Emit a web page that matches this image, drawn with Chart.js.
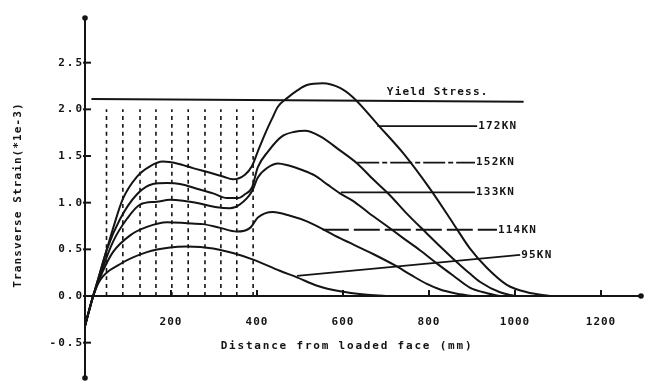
<!DOCTYPE html>
<html>
<head>
<meta charset="utf-8">
<title>Transverse strain vs distance from loaded face</title>
<script src="https://cdn.jsdelivr.net/npm/chart.js@4.4.1/dist/chart.umd.min.js"></script>
<style>
  html, body { margin: 0; padding: 0; background: #fff; }
  #chartWrap { width: 648px; height: 390px; }
</style>
</head>
<body>
<div id="chartWrap"><canvas id="strainChart" width="648" height="390"></canvas></div>
<script>
// distance from loaded face (mm) / transverse strain (x1e-3), one pair per load
const dist172 = [0, 19, 42, 65, 88, 121, 151, 181, 214, 251, 291, 321, 344, 372, 388, 402, 419, 435, 449, 470, 493, 516, 553, 593, 623, 686, 740, 802, 856, 895, 935, 981, 1028, 1081];
const strain172 = [-0.32, 0, 0.36, 0.72, 1.04, 1.28, 1.39, 1.44, 1.42, 1.37, 1.32, 1.28, 1.25, 1.30, 1.39, 1.55, 1.74, 1.90, 2.03, 2.12, 2.20, 2.26, 2.28, 2.23, 2.13, 1.81, 1.53, 1.15, 0.78, 0.51, 0.30, 0.12, 0.04, 0];

const dist152 = [0, 19, 30, 51, 81, 121, 158, 191, 221, 260, 298, 330, 356, 372, 388, 402, 426, 458, 488, 512, 547, 593, 633, 670, 709, 749, 795, 826, 856, 895, 919, 965, 1000];
const strain152 = [-0.32, 0, 0.17, 0.50, 0.82, 1.09, 1.20, 1.21, 1.20, 1.15, 1.10, 1.05, 1.05, 1.09, 1.16, 1.38, 1.55, 1.71, 1.76, 1.77, 1.71, 1.56, 1.42, 1.25, 1.08, 0.88, 0.67, 0.53, 0.40, 0.24, 0.15, 0.04, 0];

const dist133 = [0, 19, 35, 65, 98, 128, 167, 198, 228, 267, 307, 337, 360, 388, 402, 426, 449, 472, 505, 535, 565, 593, 623, 660, 702, 740, 779, 818, 856, 895, 935, 965];
const strain133 = [-0.32, 0, 0.22, 0.58, 0.83, 0.98, 1.01, 1.03, 1.02, 0.99, 0.95, 0.94, 0.98, 1.12, 1.27, 1.38, 1.42, 1.40, 1.35, 1.29, 1.19, 1.10, 1.02, 0.89, 0.75, 0.62, 0.49, 0.35, 0.22, 0.09, 0.03, 0];

const dist114 = [0, 19, 40, 65, 105, 144, 191, 237, 274, 314, 353, 384, 402, 437, 477, 516, 593, 670, 720, 760, 795, 826, 860, 900];
const strain114 = [-0.32, 0, 0.25, 0.47, 0.65, 0.74, 0.79, 0.78, 0.77, 0.73, 0.69, 0.73, 0.84, 0.90, 0.86, 0.80, 0.62, 0.45, 0.33, 0.22, 0.13, 0.07, 0.03, 0];

const dist95 = [0, 19, 35, 81, 144, 198, 237, 298, 344, 391, 453, 493, 540, 593, 650, 700];
const strain95 = [-0.32, 0, 0.17, 0.34, 0.47, 0.52, 0.53, 0.51, 0.46, 0.39, 0.27, 0.20, 0.11, 0.05, 0.015, 0];

const loadNames = ['172KN', '152KN', '133KN', '114KN', '95KN'];

// strain gauge stations (dotted verticals) and yield level
const gaugeDist = [50, 88, 128, 165, 202, 240, 279, 316, 353, 391];
const gaugeTop = 2.0;
const yieldDist = [15, 1020];
const yieldStrain = [2.11, 2.08];

// label leader lines, same order as loadNames
const leaderFromDist = [680, 633, 595, 553, 493];
const leaderToDist = [912, 907, 907, 958, 1012];
const leaderFromStrain = [1.82, 1.43, 1.11, 0.71, 0.215];
const leaderToStrain = [1.82, 1.43, 1.11, 0.71, 0.44];

const xTicks = [200, 400, 600, 800, 1000, 1200];
const yTicks = [-0.5, 0, 0.5, 1, 1.5, 2, 2.5];

class StrainChart {
    constructor(canvasId) {
        this.canvas = document.getElementById(canvasId);
        this.ink = '#141414';
        this.fontFamily = '"DejaVu Sans Mono", monospace';
        this.leaderDash = [[], [22, 3, 5, 3], [], [26, 5], []];
        this.init();
    }

    init() {
        this.chart = new Chart(this.canvas.getContext('2d'), {
            type: 'line',
            data: { datasets: this.buildDatasets() },
            options: {
                responsive: false,
                animation: false,
                devicePixelRatio: 1,
                layout: { padding: { left: 85, right: 4, top: 16, bottom: 10 } },
                plugins: {
                    legend: { display: false },
                    tooltip: { enabled: false }
                },
                scales: {
                    x: { type: 'linear', min: 0, max: 1300, display: false },
                    y: { type: 'linear', min: -0.9, max: 3.0, display: false }
                }
            },
            plugins: [this.axisPainter()]
        });
    }

    toPoints(xs, ys) {
        return xs.map((x, i) => ({ x: x, y: ys[i] }));
    }

    lineSet(data, extra) {
        return Object.assign({
            data: data,
            borderColor: this.ink,
            borderWidth: 2,
            pointRadius: 0,
            fill: false,
            cubicInterpolationMode: 'monotone'
        }, extra || {});
    }

    buildDatasets() {
        const sets = [];

        // load curves
        const curves = [
            [dist172, strain172], [dist152, strain152], [dist133, strain133],
            [dist114, strain114], [dist95, strain95]
        ];
        curves.forEach(([xs, ys], i) => {
            sets.push(this.lineSet(this.toPoints(xs, ys), { label: loadNames[i] }));
        });

        // yield stress line
        sets.push(this.lineSet(this.toPoints(yieldDist, yieldStrain), { label: 'Yield Stress' }));

        // gauge stations
        gaugeDist.forEach(g => {
            sets.push(this.lineSet(this.toPoints([g, g], [0, gaugeTop]), {
                borderWidth: 1.6,
                borderDash: [4, 4]
            }));
        });

        // leader lines for the load labels
        loadNames.forEach((name, i) => {
            sets.push(this.lineSet(this.toPoints(
                [leaderFromDist[i], leaderToDist[i]],
                [leaderFromStrain[i], leaderToStrain[i]]
            ), { borderWidth: 1.8, borderDash: this.leaderDash[i] }));
        });

        return sets;
    }

    // axes, ticks, titles and labels
    axisPainter() {
        const ink = this.ink;
        const fam = this.fontFamily;
        return {
            id: 'axisPainter',
            afterDatasetsDraw(chart) {
                const { ctx, scales: { x, y } } = chart;
                const x0 = x.getPixelForValue(0);
                const y0 = y.getPixelForValue(0);

                ctx.save();
                ctx.strokeStyle = ink;
                ctx.fillStyle = ink;
                ctx.lineWidth = 2;

                ctx.beginPath();
                ctx.moveTo(x0, y.top + 2);
                ctx.lineTo(x0, y.bottom - 2);
                ctx.moveTo(x0, y0);
                ctx.lineTo(x.right - 3, y0);
                ctx.stroke();

                [[x0, y.top + 2], [x0, y.bottom - 2], [x.right - 3, y0]].forEach(([px, py]) => {
                    ctx.beginPath();
                    ctx.arc(px, py, 2.8, 0, Math.PI * 2);
                    ctx.fill();
                });

                // y ticks
                ctx.font = 'bold 11px ' + fam;
                ctx.letterSpacing = '2px';
                ctx.textAlign = 'right';
                ctx.textBaseline = 'middle';
                yTicks.forEach(v => {
                    const py = y.getPixelForValue(v);
                    ctx.beginPath();
                    ctx.moveTo(x0 - 2, py);
                    ctx.lineTo(x0 + 6, py);
                    ctx.stroke();
                    ctx.fillText(v.toFixed(1), x0 - 1, py);
                });

                // x ticks
                ctx.letterSpacing = '1px';
                ctx.textAlign = 'center';
                xTicks.forEach(v => {
                    const px = x.getPixelForValue(v);
                    ctx.beginPath();
                    ctx.moveTo(px, y0);
                    ctx.lineTo(px, y0 - 6);
                    ctx.stroke();
                    ctx.fillText(String(v), px, y0 + 26);
                });

                // axis titles
                ctx.letterSpacing = '1.8px';
                ctx.fillText('Distance from loaded face (mm)', 347, y0 + 50);
                ctx.save();
                ctx.translate(18, 195);
                ctx.rotate(-Math.PI / 2);
                ctx.letterSpacing = '1.1px';
                ctx.fillText('Transverse Strain(*1e-3)', 0, 0);
                ctx.restore();

                // load labels at the end of each leader
                ctx.letterSpacing = '1.2px';
                ctx.textAlign = 'left';
                loadNames.forEach((name, i) => {
                    ctx.fillText(name, x.getPixelForValue(leaderToDist[i]) + 1,
                        y.getPixelForValue(leaderToStrain[i]));
                });

                // yield label just above the line
                const yieldAt = yieldStrain[0] + (yieldStrain[1] - yieldStrain[0]) *
                    (702 - yieldDist[0]) / (yieldDist[1] - yieldDist[0]);
                ctx.fillText('Yield Stress.', x.getPixelForValue(702), y.getPixelForValue(yieldAt) - 9);

                ctx.restore();
            }
        };
    }
}

document.addEventListener('DOMContentLoaded', () => {
    new StrainChart('strainChart');
});
</script>
</body>
</html>
